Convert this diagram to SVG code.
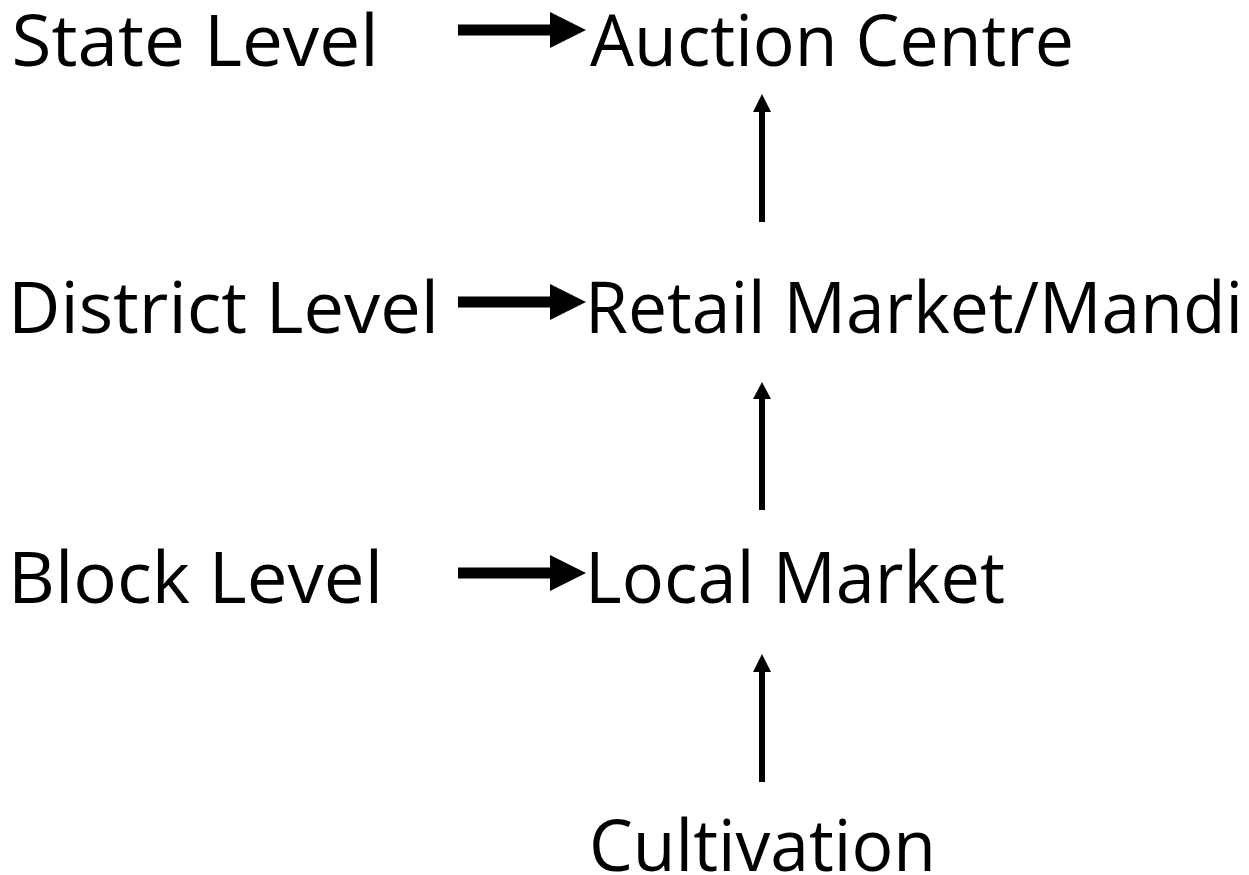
<svg xmlns="http://www.w3.org/2000/svg" width="1249" height="875" viewBox="0 0 1249 875">
<style>
.t{font-family:"Open Sans","Noto Sans","DejaVu Sans",sans-serif;font-size:71px;fill:#000}
.h{stroke:#000;stroke-width:11;fill:none}
.v{stroke:#000;stroke-width:6;fill:none}
.hd{fill:#000}
</style>
<rect width="1249" height="875" fill="#fff"/>
<g id="state"><text class="t" x="11.6" y="66" textLength="367" lengthAdjust="spacingAndGlyphs">State Level</text></g>
<g id="auction"><text class="t" x="590" y="66" textLength="484" lengthAdjust="spacingAndGlyphs">Auction Centre</text></g>
<g id="district"><text class="t" x="8" y="333" textLength="431" lengthAdjust="spacingAndGlyphs">District Level</text></g>
<g id="retail"><text class="t" x="585" y="333" textLength="658" lengthAdjust="spacingAndGlyphs">Retail Market/Mandi</text></g>
<g id="block"><text class="t" x="8" y="603" textLength="375" lengthAdjust="spacingAndGlyphs">Block Level</text></g>
<g id="local"><text class="t" x="585" y="603" textLength="420" lengthAdjust="spacingAndGlyphs">Local Market</text></g>
<g id="cultivation"><text class="t" x="589" y="871" textLength="347" lengthAdjust="spacingAndGlyphs">Cultivation</text></g>
<g id="connectors">
<line class="h" x1="458" y1="30" x2="552" y2="30"/><polygon class="hd" points="550,12 586,30 550,48"/>
<line class="h" x1="458" y1="302" x2="552" y2="302"/><polygon class="hd" points="550,284 586,302 550,320"/>
<line class="h" x1="458" y1="573" x2="552" y2="573"/><polygon class="hd" points="550,555 586,573 550,591"/>
<line class="v" x1="762" y1="222" x2="762" y2="110"/><polygon class="hd" points="753,112 762,94 771,112"/>
<line class="v" x1="762" y1="510" x2="762" y2="397"/><polygon class="hd" points="753,399 762,382 771,399"/>
<line class="v" x1="762" y1="782" x2="762" y2="670"/><polygon class="hd" points="753,672 762,654 771,672"/>
</g>
</svg>
